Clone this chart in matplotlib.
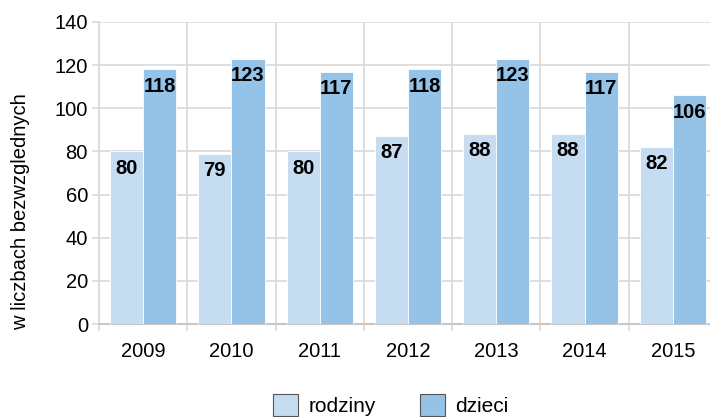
import numpy as np
import matplotlib.pyplot as plt
from matplotlib.patches import Patch

lata = ["2009", "2010", "2011", "2012", "2013", "2014", "2015"]
rodziny = [80, 79, 80, 87, 88, 88, 82]
dzieci = [118, 123, 117, 118, 123, 117, 106]

c_rodziny = "#c6ddf1"
c_dzieci = "#95c2e7"
c_grid = "#d9d9d9"

plt.rcParams["font.family"] = ["Liberation Sans", "DejaVu Sans"]

fig = plt.figure(figsize=(7.1, 4.17), dpi=100)
ax = fig.add_axes([99 / 710, 93 / 417, 618 / 710, 302 / 417])

x = np.arange(len(lata))
w = 0.375
b1 = ax.bar(x - w / 2, rodziny, w, color=c_rodziny, edgecolor="white", linewidth=0.6, zorder=3)
b2 = ax.bar(x + w / 2, dzieci, w, color=c_dzieci, edgecolor="white", linewidth=0.6, zorder=3)

# etykiety wartosci wewnatrz slupkow, tuz pod ich gorna krawedzia
for bars, vals in ((b1, rodziny), (b2, dzieci)):
    for r, v in zip(bars, vals):
        ax.annotate(str(v), (r.get_x() + r.get_width() / 2, v), xytext=(0, -12),
                    textcoords="offset points", ha="center", va="center",
                    fontsize=14.5, fontweight="bold", zorder=4)

ax.set_xlim(-0.5, len(lata) - 0.5)
ax.set_ylim(0, 140)
ax.set_yticks(np.arange(0, 141, 20))
ax.set_xticks(x)
ax.set_xticklabels(lata)
ax.set_xticks(np.arange(-0.5, len(lata)), minor=True)

ax.tick_params(axis="x", which="major", length=0, pad=13, labelsize=14.5)
ax.tick_params(axis="x", which="minor", length=5, color=c_grid, width=1.2)
ax.tick_params(axis="y", length=5, color=c_grid, width=1.2, pad=3, labelsize=14.5)

ax.grid(axis="y", color=c_grid, linewidth=1.2, zorder=0)
ax.grid(axis="x", which="minor", color=c_grid, linewidth=1.2, zorder=0)
for s in ("top", "right"):
    ax.spines[s].set_visible(False)
ax.spines["left"].set_color(c_grid)
ax.spines["left"].set_linewidth(1.2)
ax.spines["bottom"].set_color("#c8c8c8")
ax.spines["bottom"].set_linewidth(1.5)

fig.text(21 / 710, 1 - 212 / 417, "w liczbach bezwzglednych",
         rotation=90, ha="center", va="center", fontsize=14.5)

handles = [Patch(facecolor=c_rodziny, edgecolor="#555555", linewidth=0.8, label="rodziny"),
           Patch(facecolor=c_dzieci, edgecolor="#555555", linewidth=0.8, label="dzieci")]
fig.legend(handles=handles, loc="center", bbox_to_anchor=(391 / 710, 1 - 405 / 417),
           ncol=2, frameon=False, fontsize=15, handlelength=1.2, handleheight=1.2,
           handletextpad=0.5, columnspacing=2.1, borderpad=0)

fig.savefig("out.png", dpi=100)
